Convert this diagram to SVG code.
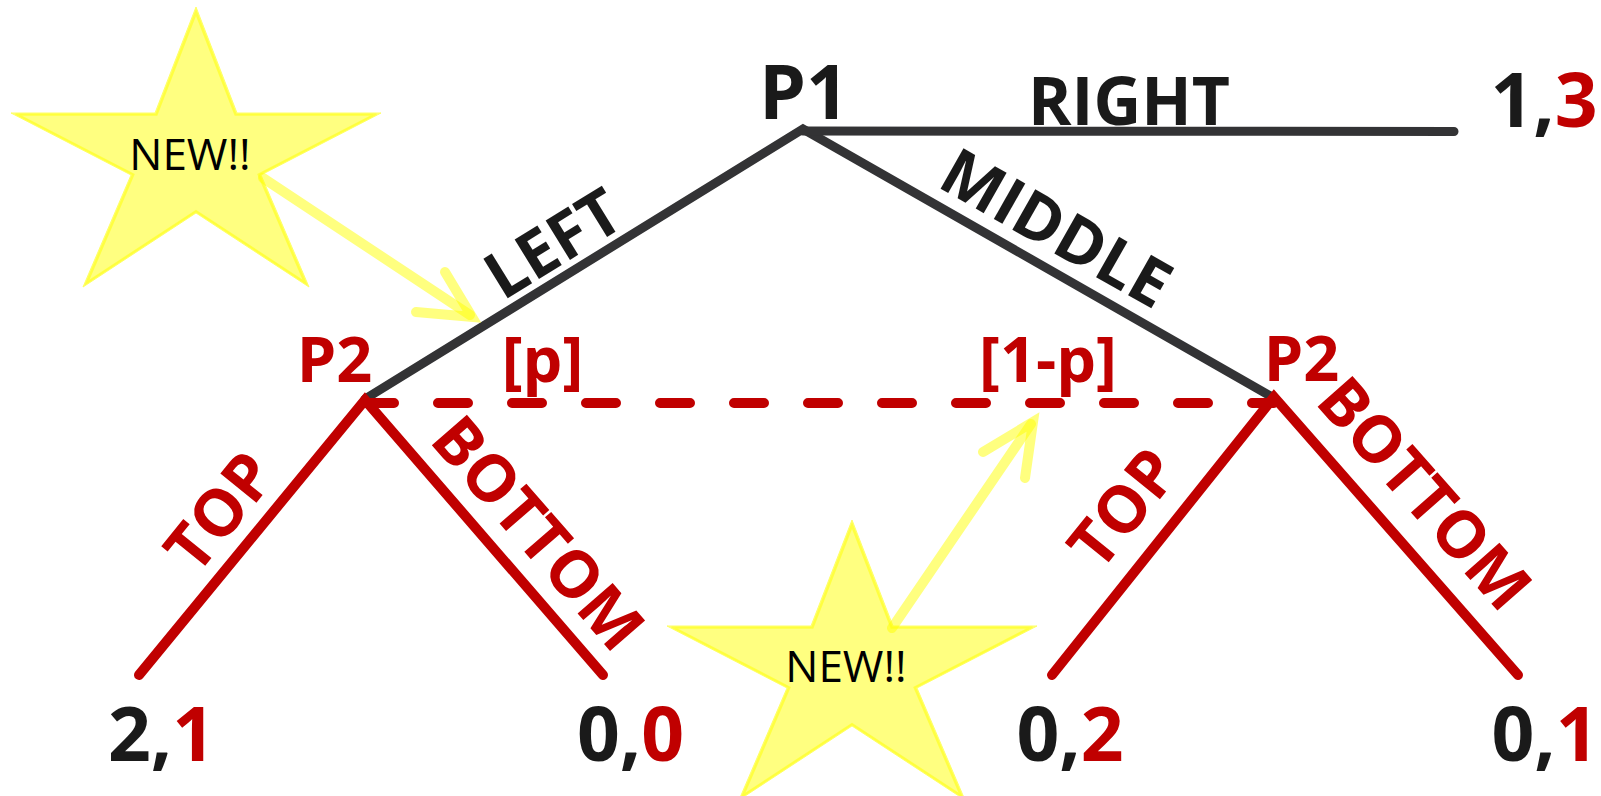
<svg xmlns="http://www.w3.org/2000/svg" xmlns:xlink="http://www.w3.org/1999/xlink" width="1601" height="796" viewBox="0 0 1601 796">
<style>
.b{font-family:"Open Sans","Noto Sans","DejaVu Sans",sans-serif;font-weight:700;text-anchor:middle}
.k{fill:#1a1a1a}
.r{fill:#c00000}
.val{font-size:75px}
.lab{font-size:65px}
.p2{font-size:63px}
.new{font-family:"Open Sans","Noto Sans",sans-serif;font-size:44px;fill:#000;text-anchor:middle}
.bl{stroke:#333335;stroke-width:9;fill:none;stroke-linecap:round;stroke-linejoin:miter;stroke-miterlimit:10}
.rd{stroke:#c00000;stroke-width:10;fill:none;stroke-linecap:round;stroke-linejoin:miter;stroke-miterlimit:10}
.dash{stroke:#c00000;stroke-width:10;fill:none;stroke-linecap:round;stroke-dasharray:30 44}
.ya{stroke:#ffff00;stroke-opacity:0.5;stroke-width:10;fill:none;stroke-linecap:round;stroke-linejoin:miter}
.starf{fill:#ffff80;stroke:#ffff66;stroke-width:1}
.stari{fill:none;stroke:#ffff33;stroke-width:1.5;stroke-opacity:0.8}
</style>
<defs>
<polygon id="star" points="0,0 41,106 185,106 65,168 113,280 0,206 -113,280 -65,168 -185,106 -41,106"/>
</defs>
<rect width="1601" height="796" fill="#ffffff"/>

<g id="star-new-1">
<use xlink:href="#star" class="starf" transform="translate(196,7)"/>
<use xlink:href="#star" class="stari" transform="translate(196,7) translate(0,153) scale(0.975) translate(0,-153)"/>
<use xlink:href="#star" class="stari" transform="translate(196,7) translate(0,153) scale(0.955) translate(0,-153)"/>
<text class="new" x="190" y="170">NEW!!</text>
</g>

<g id="star-new-2">
<use xlink:href="#star" class="starf" transform="translate(852,520)"/>
<use xlink:href="#star" class="stari" transform="translate(852,520) translate(0,153) scale(0.975) translate(0,-153)"/>
<use xlink:href="#star" class="stari" transform="translate(852,520) translate(0,153) scale(0.955) translate(0,-153)"/>
<text class="new" x="846" y="682">NEW!!</text>
</g>

<g id="node-p1">
<text class="b k val" x="804" y="119">P1</text>
</g>
<g id="node-p2-left">
<text class="b r p2" x="334.5" y="382">P2</text>
<text class="b r p2" x="542.5" y="382">[p]</text>
</g>
<g id="node-p2-right">
<text class="b r p2" x="1301.5" y="381">P2</text>
<text class="b r p2" x="1048" y="382">[1-p]</text>
</g>
<g id="payoff-right">
<text class="b k val" x="1544" y="127">1,<tspan class="r">3</tspan></text>
</g>
<g id="payoff-left-top">
<text class="b k val" x="161.5" y="761">2,<tspan class="r">1</tspan></text>
</g>
<g id="payoff-left-bottom">
<text class="b k val" x="630.5" y="761">0,<tspan class="r">0</tspan></text>
</g>
<g id="payoff-right-top">
<text class="b k val" x="1070" y="761">0,<tspan class="r">2</tspan></text>
</g>
<g id="payoff-right-bottom">
<text class="b k val" x="1545" y="761">0,<tspan class="r">1</tspan></text>
</g>

<g id="connectors">
<polyline class="bl" points="365,399 803,129 1274,398"/>
<line class="bl" x1="803" y1="131" x2="1454" y2="131.5"/>
<line class="dash" x1="364" y1="403" x2="1274" y2="403"/>
<polyline class="rd" points="139,675 365,400 603,675"/>
<polyline class="rd" points="1052,675 1274,397 1518,675"/>
<line class="ya" x1="263" y1="178" x2="470" y2="315"/>
<polyline class="ya" points="445,272 472,317 416,312"/>
<line class="ya" x1="892" y1="628" x2="1031" y2="424"/>
<polyline class="ya" points="983,452 1033,422 1025,478"/>
</g>

<g id="edge-labels">
<text class="b k" font-size="66" x="1129" y="125">RIGHT</text>
<text class="b k lab" transform="translate(565,263) rotate(-31.6)">LEFT</text>
<text class="b k lab" transform="translate(1045,248) rotate(29.6)">MIDDLE</text>
<text class="b r lab" transform="translate(237.5,526) rotate(-51)">TOP</text>
<text class="b r lab" transform="translate(1141,522.5) rotate(-51)">TOP</text>
<text class="b r lab" transform="translate(521,548) rotate(49.1)">BOTTOM</text>
<text class="b r lab" transform="translate(1407.5,508.6) rotate(48.6)">BOTTOM</text>
</g>
</svg>
